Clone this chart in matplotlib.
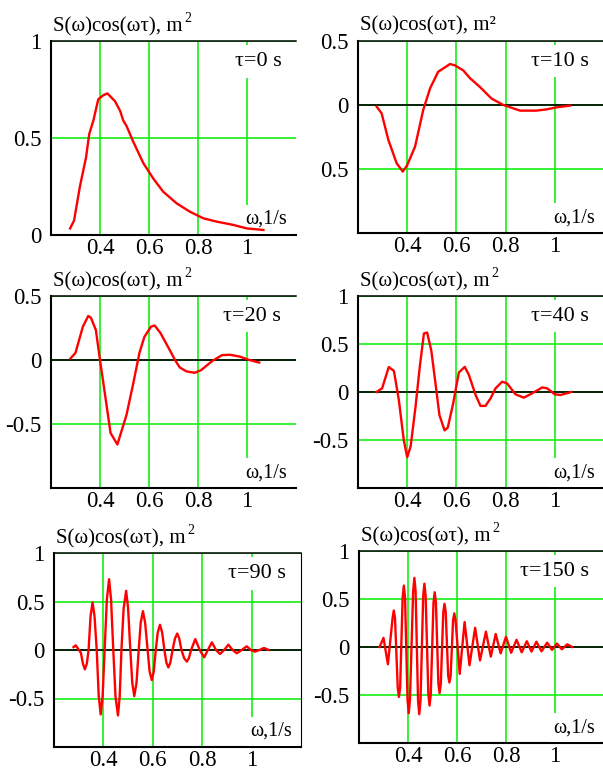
import matplotlib.pyplot as plt
import numpy as np

plt.rcParams['font.family'] = ['Liberation Serif', 'DejaVu Serif']

# tau = 0 s
w_0 = [0.278, 0.294, 0.318, 0.343, 0.356, 0.373, 0.393, 0.413, 0.430, 0.461, 0.482,
       0.495, 0.509, 0.536, 0.577, 0.618, 0.658, 0.713, 0.767, 0.822, 0.876, 0.944,
       0.999, 1.067]
s_0 = [0.034, 0.074, 0.25, 0.40, 0.52, 0.59, 0.70, 0.72, 0.73, 0.69, 0.64,
       0.59, 0.56, 0.48, 0.37, 0.29, 0.223, 0.163, 0.12, 0.086, 0.069, 0.052,
       0.034, 0.026]

# tau = 10 s
w_10 = [0.276, 0.296, 0.323, 0.357, 0.382, 0.400, 0.432, 0.465, 0.493, 0.526, 0.574,
        0.594, 0.628, 0.655, 0.696, 0.743, 0.791, 0.859, 0.926, 0.967, 1.008, 1.062]
s_10 = [-0.013, -0.065, -0.27, -0.455, -0.52, -0.47, -0.325, -0.04, 0.13, 0.26, 0.32,
        0.31, 0.27, 0.21, 0.14, 0.05, 0.0, -0.044, -0.044, -0.034, -0.018, -0.005]

# tau = 20 s
w_20 = [0.280, 0.300, 0.330, 0.352, 0.363, 0.383, 0.400, 0.416, 0.443, 0.471, 0.508,
        0.535, 0.561, 0.581, 0.608, 0.623, 0.647, 0.680, 0.707, 0.726, 0.753, 0.786,
        0.812, 0.858, 0.898, 0.931, 0.971, 1.010, 1.050]
s_20 = [0.013, 0.056, 0.26, 0.344, 0.33, 0.235, 0.0, -0.21, -0.57, -0.66, -0.43,
        -0.19, 0.056, 0.18, 0.26, 0.27, 0.21, 0.094, -0.003, -0.059, -0.089, -0.10,
        -0.08, -0.008, 0.038, 0.041, 0.026, 0.0, -0.02]

# tau = 40 s
w_40 = [0.275, 0.298, 0.325, 0.346, 0.366, 0.386, 0.400, 0.414, 0.434, 0.451, 0.468,
        0.481, 0.498, 0.515, 0.531, 0.552, 0.565, 0.587, 0.610, 0.634, 0.651, 0.678,
        0.698, 0.718, 0.739, 0.759, 0.786, 0.806, 0.840, 0.874, 0.908, 0.949, 0.969,
        1.000, 1.023, 1.067]
s_40 = [0.0, 0.038, 0.26, 0.22, -0.083, -0.50, -0.68, -0.566, -0.15, 0.26, 0.61,
        0.62, 0.43, 0.09, -0.24, -0.40, -0.37, -0.117, 0.203, 0.262, 0.176, -0.031,
        -0.145, -0.145, -0.066, 0.038, 0.107, 0.09, -0.024, -0.059, -0.014, 0.048, 0.038,
        -0.024, -0.031, 0.0]

# tau = 90 s
w_90 = [0.279, 0.288, 0.309, 0.317, 0.325, 0.333, 0.340, 0.348, 0.356, 0.364, 0.373,
        0.381, 0.389, 0.397, 0.405, 0.414, 0.423, 0.431, 0.440, 0.449, 0.459, 0.466,
        0.473, 0.482, 0.492, 0.500, 0.509, 0.517, 0.525, 0.534, 0.543, 0.551, 0.560,
        0.569, 0.579, 0.587, 0.596, 0.604, 0.612, 0.620, 0.629, 0.638, 0.647, 0.655,
        0.663, 0.671, 0.680, 0.690, 0.699, 0.707, 0.716, 0.727, 0.738, 0.746, 0.755,
        0.772, 0.790, 0.808, 0.823, 0.839, 0.856, 0.872, 0.889, 0.906, 0.923, 0.940,
        0.960, 0.980, 0.997, 1.013, 1.032, 1.050, 1.070]
s_90 = [0.03, 0.048, -0.03, -0.14, -0.2, -0.14, 0.0, 0.35, 0.49, 0.35, 0.0,
        -0.47, -0.665, -0.47, 0.0, 0.52, 0.73, 0.52, 0.0, -0.48, -0.675, -0.48,
        0.0, 0.43, 0.61, 0.43, 0.0, -0.34, -0.476, -0.34, 0.0, 0.28, 0.40,
        0.28, 0.0, -0.22, -0.31, -0.22, 0.0, 0.18, 0.26, 0.18, 0.0, -0.13,
        -0.18, -0.13, 0.0, 0.12, 0.17, 0.12, 0.0, -0.085, -0.12, -0.085, 0.0,
        0.113, 0.0, -0.076, 0.0, 0.079, 0.0, -0.041, 0.0, 0.055, 0.0, -0.034,
        0.0, 0.038, 0.0, -0.017, 0.0, 0.021, 0.0]

# tau = 150 s
w_150 = [0.284, 0.300, 0.318, 0.337, 0.342, 0.347, 0.358, 0.363, 0.368, 0.378, 0.383,
         0.388, 0.398, 0.403, 0.408, 0.421, 0.426, 0.431, 0.441, 0.446, 0.451, 0.462,
         0.467, 0.472, 0.483, 0.488, 0.493, 0.504, 0.509, 0.514, 0.524, 0.529, 0.534,
         0.544, 0.549, 0.554, 0.564, 0.569, 0.574, 0.584, 0.589, 0.594, 0.611, 0.631,
         0.651, 0.674, 0.694, 0.718, 0.738, 0.758, 0.778, 0.800, 0.821, 0.843, 0.864,
         0.885, 0.904, 0.924, 0.945, 0.968, 0.988, 1.008, 1.028, 1.050, 1.070]
s_150 = [0.0, 0.095, -0.18, 0.30, 0.38, 0.30, -0.42, -0.52, -0.42, 0.51, 0.64,
         0.51, -0.55, -0.69, -0.55, 0.58, 0.72, 0.58, -0.56, -0.70, -0.56, 0.53,
         0.66, 0.53, -0.49, -0.61, -0.49, 0.46, 0.57, 0.46, -0.38, -0.48, -0.38,
         0.36, 0.45, 0.36, -0.30, -0.37, -0.30, 0.28, 0.35, 0.28, -0.28, 0.26,
         -0.19, 0.20, -0.14, 0.16, -0.10, 0.135, -0.066, 0.107, -0.06, 0.075, -0.055,
         0.06, -0.048, 0.055, -0.045, 0.045, -0.03, 0.036, -0.024, 0.028, 0.0]

x_ticks = [0.4, 0.6, 0.8, 1.0]
x_labels = ['0.4', '0.6', '0.8', '1']

W, H = 603, 774
fig = plt.figure(figsize=(W / 100, H / 100), dpi=100)

# (omega, values, tau label, ylim, yticks, ytick labels, box in pixels: left, top, width, height)
panels = [
    (w_0, s_0, 'τ=0 s', (0, 1), [0, 0.5, 1], ['0', '0.5', '1'], (51, 41, 245, 194)),
    (w_10, s_10, 'τ=10 s', (-1, 0.5), [-0.5, 0, 0.5], ['0.5', '0', '0.5'], (358, 41, 246, 192)),
    (w_20, s_20, 'τ=20 s', (-1, 0.5), [-0.5, 0, 0.5], ['-0.5', '0', '0.5'], (51, 296, 245, 192)),
    (w_40, s_40, 'τ=40 s', (-1, 1), [-0.5, 0, 0.5, 1], ['-0.5', '0', '0.5', '1'], (358, 296, 246, 192)),
    (w_90, s_90, 'τ=90 s', (-1, 1), [-0.5, 0, 0.5, 1], ['-0.5', '0', '0.5', '1'], (54, 553, 247, 194)),
    (w_150, s_150, 'τ=150 s', (-1, 1), [-0.5, 0, 0.5, 1], ['-0.5', '0', '0.5', '1'], (359, 551, 245, 192)),
]

titles = []
for i, (w, s, tau, ylim, yt, ytl, box) in enumerate(panels):
    left, top, width, height = box
    ax = fig.add_axes([left / W, 1 - (top + height) / H, width / W, height / H])
    ax.set_xlim(0.2, 1.2)
    ax.set_ylim(*ylim)
    ax.set_xticks(x_ticks)
    ax.set_xticklabels(x_labels)
    ax.set_yticks(yt)
    ax.set_yticklabels(ytl)
    ax.tick_params(length=0, labelsize=16.5, colors='black')
    ax.tick_params(axis='x', pad=2)
    ax.tick_params(axis='y', pad=7)
    ax.grid(True, color='#00ee00', lw=1.1)
    ax.set_axisbelow(True)
    for side in ['left', 'bottom']:
        ax.spines[side].set_linewidth(1.5)
    ax.spines['top'].set_linewidth(1.1)
    ax.spines['right'].set_visible(i == 4)
    if ylim[0] < 0:
        ax.axhline(0, color='black', lw=1.2, zorder=2)
    ax.plot(w, s, color='red', lw=1.7, zorder=5)

    ax.text(0.94, 0.895, tau, transform=ax.transAxes, ha='right', va='center',
            fontsize=16, zorder=4,
            bbox=dict(boxstyle='square,pad=0.3', fc='white', ec='none'))
    ax.text(0.965, 0.08, 'ω,1/s', transform=ax.transAxes, ha='right', va='center',
            fontsize=14.5, zorder=4,
            bbox=dict(boxstyle='square,pad=0.25', fc='white', ec='none'))

    if i == 1:
        ax.annotate('S(ω)cos(ωτ), m²', xy=(0, 1), xycoords='axes fraction',
                    xytext=(1.5, 11), textcoords='offset points', va='center', fontsize=15)
    else:
        t = ax.annotate('S(ω)cos(ωτ), m', xy=(0, 1), xycoords='axes fraction',
                        xytext=(1.5, 10), textcoords='offset points', va='center', fontsize=15)
        titles.append(t)

# the raised "2" after m
fig.canvas.draw()
r = fig.canvas.get_renderer()
for t in titles:
    bb = t.get_window_extent(r)
    fig.text((bb.x1 + 2) / W, (bb.y0 + bb.height / 2 + 9) / H, '2',
             ha='left', va='center', fontsize=10)

fig.savefig('out.png', dpi=100)
